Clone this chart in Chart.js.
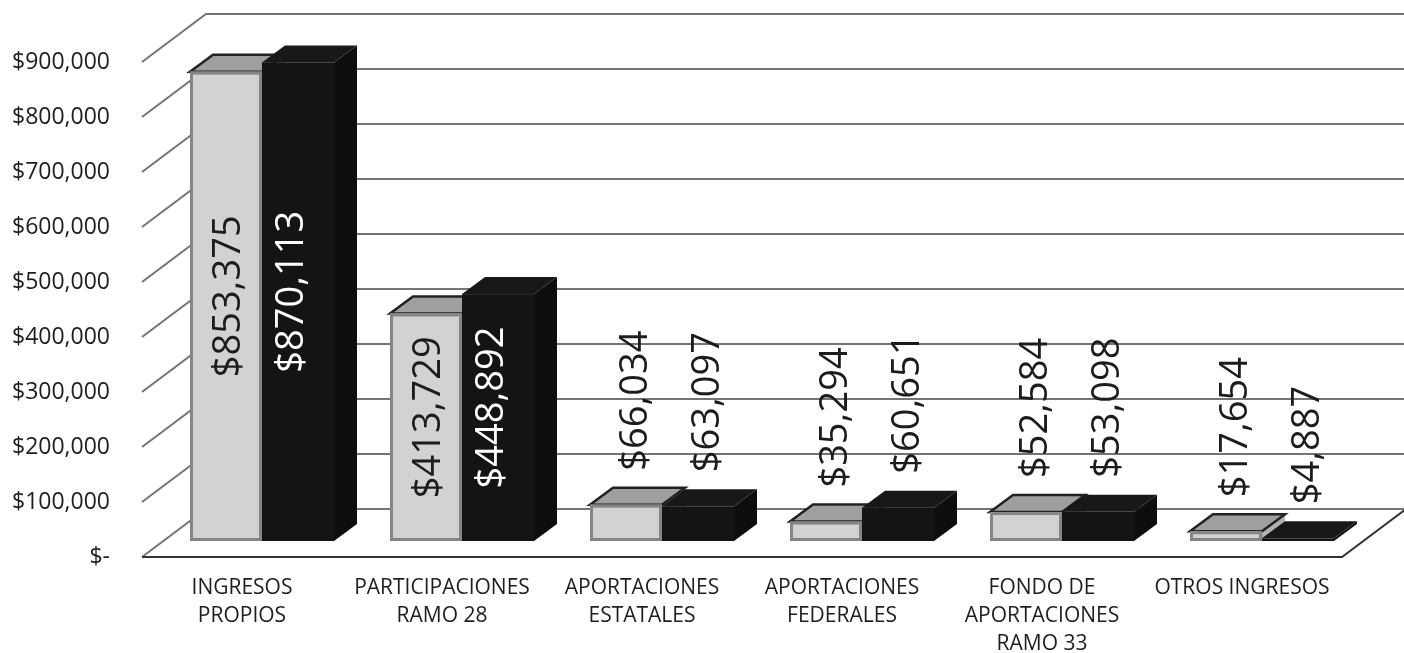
<!DOCTYPE html>
<html><head><meta charset="utf-8">
<script src="https://cdn.jsdelivr.net/npm/chart.js@4"></script>
<style>html,body{margin:0;padding:0;background:#fff;}#wrap{width:1404px;height:653px;position:relative}</style>
</head><body><div id="wrap"><canvas id="c" width="1404" height="653"></canvas></div>
<script>
const categories = [["INGRESOS","PROPIOS"],["PARTICIPACIONES","RAMO 28"],["APORTACIONES","ESTATALES"],["APORTACIONES","FEDERALES"],["FONDO DE","APORTACIONES","RAMO 33"],["OTROS INGRESOS"]];
const seriesGray = [853375, 413729, 66034, 35294, 52584, 17654];
const seriesBlack = [870113, 448892, 63097, 60651, 53098, 4887];
const tickLabels = ["$-","$100,000","$200,000","$300,000","$400,000","$500,000","$600,000","$700,000","$800,000","$900,000"];

const DX = 64, DY = -48;     // wall depth
const BOX = 20, BOY = -16;   // bar front plane offset
const BDX = 23, BDY = -17;   // bar depth
const FONT = '"Open Sans", "DejaVu Sans", sans-serif';

function poly(ctx, pts, fill, stroke, lw){
  ctx.beginPath(); ctx.moveTo(pts[0][0], pts[0][1]);
  for (let i=1;i<pts.length;i++) ctx.lineTo(pts[i][0], pts[i][1]);
  ctx.closePath();
  if (fill){ ctx.fillStyle = fill; ctx.fill(); }
  if (stroke){ ctx.strokeStyle = stroke; ctx.lineWidth = lw||1; ctx.stroke(); }
}

const threeD = {
  id: 'threeD',
  beforeDatasetsDraw(chart){
    const ctx = chart.ctx, ys = chart.scales.y, a = chart.chartArea;
    ctx.save();
    ctx.lineCap = 'butt';
    ys.ticks.forEach(t => {
      const yf = ys.getPixelForValue(t.value);
      ctx.strokeStyle = '#747474'; ctx.lineWidth = 2;
      ctx.beginPath(); ctx.moveTo(a.left, yf); ctx.lineTo(a.left+DX, yf+DY); ctx.lineTo(chart.width, yf+DY); ctx.stroke();
    });
    const y0 = ys.getPixelForValue(0);
    ctx.strokeStyle = '#333333'; ctx.lineWidth = 2;
    ctx.beginPath(); ctx.moveTo(a.left, y0); ctx.lineTo(a.right, y0); ctx.lineTo(a.right+DX, y0+DY); ctx.stroke();
    // bars
    const m0 = chart.getDatasetMeta(0), m1 = chart.getDatasetMeta(1);
    for (let i=0;i<categories.length;i++){
      [[m0,0],[m1,1]].forEach(([m,k]) => {
        const el = m.data[i];
        const x0 = el.x - el.width/2 + BOX, x1 = el.x + el.width/2 + BOX;
        const yt = el.y + BOY, yb = el.base + BOY;
        const top = [[x0,yt],[x0+BDX,yt+BDY],[x1+BDX,yt+BDY],[x1,yt]];
        const side = [[x1,yt],[x1+BDX,yt+BDY],[x1+BDX,yb+BDY],[x1,yb]];
        if (k===0){
          poly(ctx, side, '#b0b0b0');
          poly(ctx, top, '#9f9f9f', '#222', 2.5);
          ctx.fillStyle = '#d2d2d2'; ctx.fillRect(x0, yt, x1-x0, yb-yt);
          ctx.strokeStyle = '#858585'; ctx.lineWidth = 3; ctx.strokeRect(x0+1.5, yt+1.5, x1-x0-3, yb-yt-3);
        } else {
          poly(ctx, side, '#0e0e0e');
          poly(ctx, top, '#181818');
          ctx.fillStyle = '#141414'; ctx.fillRect(x0, yt, x1-x0, yb-yt);
        }
      });
    }
    ctx.restore();
  },
  afterDatasetsDraw(chart){
    const ctx = chart.ctx;
    ctx.save();
    ctx.font = '38px ' + FONT;
    ctx.textBaseline = 'middle';
    [0,1].forEach(k => {
      const m = chart.getDatasetMeta(k);
      const vals = k===0 ? seriesGray : seriesBlack;
      m.data.forEach((el, i) => {
        const txt = '$' + vals[i].toLocaleString('en-US');
        const x0 = el.x - el.width/2 + BOX, x1 = el.x + el.width/2 + BOX;
        const yt = el.y + BOY, yb = el.base + BOY;
        const tw = ctx.measureText(txt).width;
        const cx = (x0+x1)/2;
        ctx.save();
        if (yb - yt > tw + 30){
          ctx.translate(cx + (k===0 ? 3 : -6), (yt+yb)/2 - 10);
          ctx.rotate(-Math.PI/2);
          ctx.textAlign = 'center';
          ctx.fillStyle = k===0 ? '#1c1c1c' : '#ffffff';
        } else {
          ctx.translate(cx + 10, yt + BDY - 17);
          ctx.rotate(-Math.PI/2);
          ctx.textAlign = 'left';
          ctx.fillStyle = '#1c1c1c';
        }
        ctx.fillText(txt, 0, 0);
        ctx.restore();
      });
    });
    ctx.restore();
  }
};

new Chart(document.getElementById('c'), {
  type: 'bar',
  data: {
    labels: categories,
    datasets: [
      { label: 'Serie 1', data: seriesGray, backgroundColor: 'rgba(0,0,0,0)', categoryPercentage: 0.72, barPercentage: 1.0 },
      { label: 'Serie 2', data: seriesBlack, backgroundColor: 'rgba(0,0,0,0)', categoryPercentage: 0.72, barPercentage: 1.0 }
    ]
  },
  options: {
    responsive: false, animation: false,
    layout: { padding: { top: 62, right: 62, left: 0, bottom: 0 } },
    plugins: { legend: { display: false }, tooltip: { enabled: false } },
    scales: {
      x: {
        grid: { display: false, drawTicks: false }, border: { display: false },
        ticks: { font: { family: FONT, size: 21, lineHeight: 1.333 }, color: '#1e1e1e', padding: 17, maxRotation: 0, autoSkip: false },
        afterFit(s){ s.height = 96; }
      },
      y: {
        min: 0, max: 900000,
        grid: { display: false, drawTicks: false }, border: { display: false },
        ticks: { stepSize: 100000, callback: (v, i) => tickLabels[i], font: { family: FONT, size: 23 }, color: '#1e1e1e', padding: 32 },
        afterFit(s){ s.width = 142; }
      }
    }
  },
  plugins: [threeD]
});
</script>
</body></html>
